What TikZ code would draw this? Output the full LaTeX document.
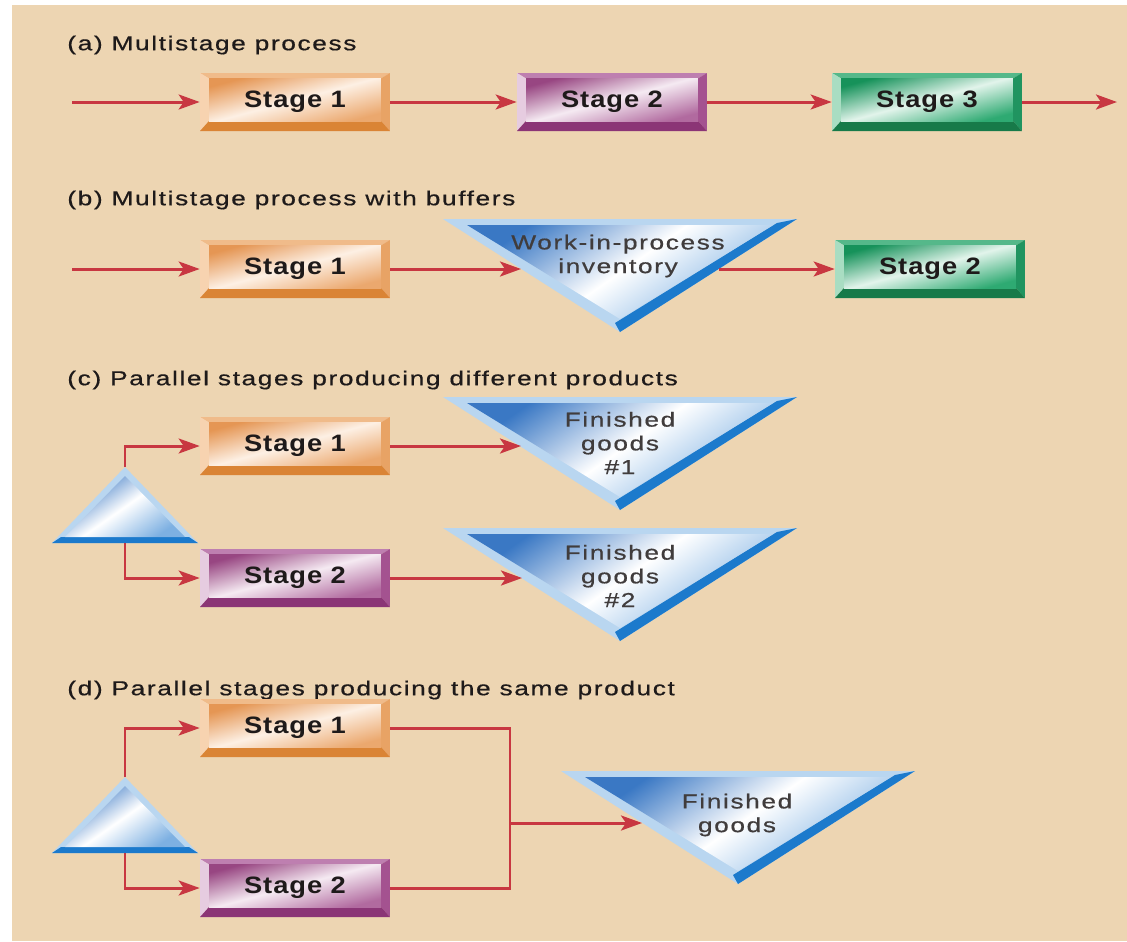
\documentclass[tikz,border=0pt]{standalone}
\usepackage{fontspec}
\setmainfont{Liberation Sans}
\newfontfamily\headfont[FakeStretch=1.3,LetterSpace=8,FakeBold=0.6]{Liberation Sans}
\newfontfamily\boxfont[FakeStretch=1.15,LetterSpace=4]{Liberation Sans}
\usetikzlibrary{calc,arrows.meta}

% page and connectors
\definecolor{paper}{RGB}{237,213,178}
\definecolor{flow}{RGB}{200,55,65}
\definecolor{ink}{RGB}{30,26,26}
% orange stage
\definecolor{ortop}{RGB}{240,187,138}
\definecolor{orleft}{RGB}{247,211,176}
\definecolor{orright}{RGB}{232,163,101}
\definecolor{orbot}{RGB}{218,132,53}
\definecolor{ordk}{RGB}{229,150,84}
\definecolor{orhi}{RGB}{253,240,228}
\definecolor{orrt}{RGB}{235,168,110}
% purple stage
\definecolor{putop}{RGB}{190,127,176}
\definecolor{puleft}{RGB}{230,204,224}
\definecolor{puright}{RGB}{164,82,144}
\definecolor{pubot}{RGB}{139,53,118}
\definecolor{pudk}{RGB}{152,70,130}
\definecolor{puhi}{RGB}{245,234,242}
\definecolor{purt}{RGB}{177,106,159}
% green stage
\definecolor{grtop}{RGB}{85,184,138}
\definecolor{grleft}{RGB}{169,221,194}
\definecolor{grright}{RGB}{32,148,96}
\definecolor{grbot}{RGB}{23,122,73}
\definecolor{grdk}{RGB}{22,146,90}
\definecolor{grhi}{RGB}{226,244,235}
\definecolor{grrt}{RGB}{46,170,114}
% blue storage triangles
\definecolor{rimblue}{RGB}{185,214,240}
\definecolor{deepblue}{RGB}{28,122,204}
\definecolor{midblue}{RGB}{58,120,196}
\definecolor{softblue}{RGB}{125,176,226}

\newcommand\stagefont{\boxfont\bfseries\fontsize{13.5}{15}\selectfont}
\newcommand\headtext{\headfont\fontsize{11.5}{13.5}\selectfont}

% bevelled face of a stage box, drawn inside the node outline
\newcommand\bevel[1]{%
  \coordinate (bA) at (path picture bounding box.north west);
  \coordinate (bB) at (path picture bounding box.north east);
  \coordinate (bC) at (path picture bounding box.south east);
  \coordinate (bD) at (path picture bounding box.south west);
  \coordinate (ia) at ($(bA)+(0.18cm,-0.11cm)$);
  \coordinate (ib) at ($(bB)+(-0.18cm,-0.11cm)$);
  \coordinate (ic) at ($(bC)+(-0.18cm,0.2cm)$);
  \coordinate (id) at ($(bD)+(0.18cm,0.2cm)$);
  \fill[#1top] (bA) -- (bB) -- (ib) -- (ia) -- cycle;
  \fill[#1left] (bA) -- (ia) -- (id) -- (bD) -- cycle;
  \fill[#1right] (bB) -- (bC) -- (ic) -- (ib) -- cycle;
  \fill[#1bot] (bD) -- (id) -- (ic) -- (bC) -- cycle;
  \shade[left color=#1dk, right color=#1rt, middle color=#1hi, shading angle=15]
    (ia) rectangle (ic);
}

% storage triangle pointing down, top-left corner at the scope origin
\newcommand\downtri{%
  \fill[rimblue] (0,0) -- (354,0) -- (177,113) -- cycle;
  \fill[deepblue] (354,0) -- (177,113) -- (172,104) -- (334,4) -- cycle;
  \shade[left color=midblue, right color=softblue, middle color=white, shading angle=35]
    (24,6) -- (330,6) -- (177,100) -- cycle;
}
% splitting triangle pointing up, apex at the scope origin
\newcommand\uptri{%
  \fill[rimblue] (0,0) -- (73,76) -- (-73,76) -- cycle;
  \fill[deepblue] (-73,76) -- (73,76) -- (64,70) -- (-64,70) -- cycle;
  \shade[left color=midblue, right color=softblue, middle color=white, shading angle=35]
    (0,9) -- (60,70) -- (-60,70) -- cycle;
}

\tikzset{
  stagebox/.style={minimum width=3.8cm, minimum height=1.16cm, inner sep=0pt,
    text=ink, font=\stagefont, path picture={\bevel{#1}}},
  heading/.style={anchor=west, inner sep=0pt, text=ink, font=\headtext},
  storetext/.style={align=center, inner sep=0pt, text=ink!85, font=\headtext},
  link/.style={draw=flow, line width=1.7pt},
  arr/.style={link, -{Stealth[length=0.42cm, width=0.3cm, inset=0.1cm]}},
}

\begin{document}
\begin{tikzpicture}[x=0.02cm, y=-0.02cm]
\useasboundingbox (0,0) rectangle (1127,941);
\fill[white] (0,0) rectangle (1127,941);
\fill[paper] (12,5) rectangle (1127,941);

% (a) three stages in series
\node[heading] (ha) at (67,45) {(a) Multistage process};
\coordinate (ain) at (72,102);
\coordinate (aout) at (1117,102);
\node[stagebox=or] (a1) at (295,102) {Stage 1};
\node[stagebox=pu] (a2) at (612,102) {Stage 2};
\node[stagebox=gr] (a3) at (927,102) {Stage 3};
\draw[arr] (ain) -- (a1);
\draw[arr] (a1) -- (a2);
\draw[arr] (a2) -- (a3);
\draw[arr] (a3) -- (aout);

% (b) a buffer between two stages
\node[heading] (hb) at (67,200) {(b) Multistage process with buffers};
\begin{scope}[shift={(443,219)}]\downtri\end{scope}
\node[storetext] (wip) at (618,256) {Work-in-process\\inventory};
\coordinate (bin) at (72,269);
\coordinate (wipL) at (521,269);
\coordinate (wipR) at (719,269);
\node[stagebox=or] (b1) at (295,269) {Stage 1};
\node[stagebox=gr] (b2) at (930,269) {Stage 2};
\draw[arr] (bin) -- (b1);
\draw[arr] (b1) -- (wipL);
\draw[arr] (wipR) -- (b2);

% (c) parallel stages, separate products
\node[heading] (hc) at (67,380) {(c) Parallel stages producing different products};
\begin{scope}[shift={(125,467)}]\uptri\end{scope}
\coordinate (cTop) at (125,467);
\coordinate (cBot) at (125,543);
\node[stagebox=or] (c1) at (295,446) {Stage 1};
\node[stagebox=pu] (c2) at (295,578) {Stage 2};
\begin{scope}[shift={(443,397)}]\downtri\end{scope}
\begin{scope}[shift={(443,528)}]\downtri\end{scope}
\node[storetext] (fg1) at (620,443) {Finished\\goods\\\#1};
\node[storetext] (fg2) at (620,576) {Finished\\goods\\\#2};
\coordinate (fg1L) at (521,446);
\coordinate (fg2L) at (522,578);
\draw[arr] (cTop) |- (c1);
\draw[arr] (cBot) |- (c2);
\draw[arr] (c1) -- (fg1L);
\draw[arr] (c2) -- (fg2L);

% (d) parallel stages, one product
\node[heading] (hd) at (67,690) {(d) Parallel stages producing the same product};
\begin{scope}[shift={(125,777)}]\uptri\end{scope}
\coordinate (dTop) at (125,777);
\coordinate (dBot) at (125,853);
\node[stagebox=or] (d1) at (295,728) {Stage 1};
\node[stagebox=pu] (d2) at (295,888) {Stage 2};
\begin{scope}[shift={(561,771)}]\downtri\end{scope}
\node[storetext] (fg) at (737,815) {Finished\\goods};
\coordinate (dJoin) at (510,823);
\coordinate (fgL) at (642,823);
\draw[arr] (dTop) |- (d1);
\draw[arr] (dBot) |- (d2);
\draw[link] (d1) -| (dJoin);
\draw[link] (d2) -| (dJoin);
\draw[arr] (dJoin) -- (fgL);
\end{tikzpicture}
\end{document}
